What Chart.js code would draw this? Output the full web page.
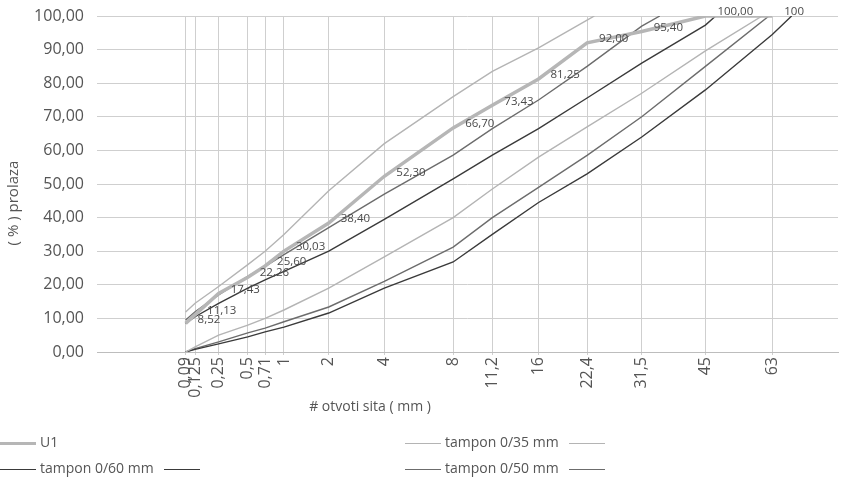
<!DOCTYPE html>
<html>
<head>
<meta charset="utf-8">
<script src="https://cdn.jsdelivr.net/npm/chart.js@4"></script>
<style>
  html, body { margin: 0; padding: 0; background: #ffffff; }
  #wrap { position: relative; width: 841px; height: 483px; }
  #legend { position: absolute; left: 0; top: 428px; width: 841px; height: 55px;
            font-family: 'Open Sans', sans-serif; font-size: 14px; color: #555; }
  .item { position: absolute; height: 20px; line-height: 20px; white-space: nowrap; }
  .item span.line { display: inline-block; width: 36px; vertical-align: middle; margin-right: 4px; }
  .item span.tail { display: inline-block; width: 36px; vertical-align: middle; margin-left: 10px; }
</style>
</head>
<body>
<div id="wrap">
  <canvas id="chart" width="841" height="483"></canvas>
  <div id="legend"></div>
</div>
<script>
// sieve openings (mm)
const sieves = [0.09, 0.125, 0.25, 0.5, 0.71, 1, 2, 4, 8, 11.2, 16, 22.4, 31.5, 45, 63];
const sieveLabels = ['0,09', '0,125', '0,25', '0,5', '0,71', '1', '2', '4', '8', '11,2', '16', '22,4', '31,5', '45', '63'];

// sample U1 (% passing)
const u1Values = [8.52, 11.13, 17.43, 22.26, 25.60, 30.03, 38.40, 52.30, 66.70, 73.43, 81.25, 92.00, 95.40, 100.00, 100];
const u1Labels = ['8,52', '11,13', '17,43', '22,26', '25,60', '30,03', '38,40', '52,30', '66,70', '73,43', '81,25', '92,00', '95,40', '100,00', '100'];

// grading envelopes: values on the sieves, then the size where each reaches 100 %
const upper35 = [11.9, 14.5, 19.5, 26, 30, 35, 48, 62, 76, 83.5, 90.5, 98.8];
const upper35End = 23.5;
const lower35 = [0, 1.5, 5, 8, 10, 12.5, 19, 28.3, 40, 48.5, 58, 67, 77, 89.6];
const lower35End = 60;
const upper50 = [9.5, 12, 17, 22.5, 25.5, 29, 37, 47, 58.6, 66.5, 75, 85, 97];
const upper50End = 35;
const lower50 = [0, 1, 3, 5.7, 7.1, 9, 13.4, 21, 31.2, 40, 49, 58.5, 70, 85];
const lower50End = 62;
const upper60 = [8.5, 10.5, 14.5, 19, 21.5, 24, 30, 39.5, 51.5, 58.6, 66.5, 75.6, 86, 97.3];
const upper60End = 47.5;
const lower60 = [0, 0.8, 2.4, 4.5, 6, 7.4, 11.6, 19, 26.8, 35, 44.5, 53, 64, 78, 94.5];
const lower60End = 69;

const EXP = 0.31; // axis is spaced by d^0.31

class PowerScale extends Chart.LinearScale {
  getPixelForValue(value) {
    const a = Math.pow(this.min, EXP), b = Math.pow(this.max, EXP);
    return this.getPixelForDecimal((Math.pow(Math.max(value, 0), EXP) - a) / (b - a));
  }
  getValueForPixel(pixel) {
    const a = Math.pow(this.min, EXP), b = Math.pow(this.max, EXP);
    return Math.pow(a + this.getDecimalForPixel(pixel) * (b - a), 1 / EXP);
  }
}
PowerScale.id = 'power';
PowerScale.defaults = Chart.LinearScale.defaults;
Chart.register(PowerScale);

function toPoints(values, end) {
  const pts = values.map((v, i) => ({ x: sieves[i], y: v }));
  if (end !== undefined) pts.push({ x: end, y: 100 });
  return pts;
}

const light = '#b4b4b4';
const mid = '#6c6c6c';
const dark = '#3a3a3a';

const datasets = [
  { label: 'U1', data: toPoints(u1Values), borderColor: '#b6b6b6', borderWidth: 3.5 },
  { label: 'tampon 0/35 mm', data: toPoints(upper35, upper35End), borderColor: light, borderWidth: 1.4 },
  { label: '', data: toPoints(lower35, lower35End), borderColor: light, borderWidth: 1.4 },
  { label: 'tampon 0/60 mm', data: toPoints(upper60, upper60End), borderColor: dark, borderWidth: 1.4 },
  { label: '', data: toPoints(lower60, lower60End), borderColor: dark, borderWidth: 1.4 },
  { label: 'tampon 0/50 mm', data: toPoints(upper50, upper50End), borderColor: mid, borderWidth: 1.4 },
  { label: '', data: toPoints(lower50, lower50End), borderColor: mid, borderWidth: 1.4 }
];
datasets.forEach(d => { d.pointRadius = 0; d.tension = 0; d.fill = false; });
datasets[0].order = -1;

// values written beside the U1 points
const u1LabelPlugin = {
  id: 'u1Labels',
  afterDatasetsDraw(chart) {
    const ctx = chart.ctx;
    const meta = chart.getDatasetMeta(0);
    ctx.save();
    ctx.font = '11.5px "Open Sans", sans-serif';
    ctx.fillStyle = '#4a4a4a';
    ctx.textBaseline = 'middle';
    meta.data.forEach((pt, i) => {
      ctx.fillText(u1Labels[i], pt.x + 12, pt.y - 4);
    });
    ctx.restore();
  }
};

// axis titles sit off-centre in the original, so they are placed by hand
const axisTitlePlugin = {
  id: 'axisTitles',
  afterDraw(chart) {
    const ctx = chart.ctx;
    ctx.save();
    ctx.fillStyle = '#555';
    ctx.textAlign = 'center';
    ctx.textBaseline = 'middle';
    ctx.font = '14px "Open Sans", sans-serif';
    ctx.fillText('# otvoti sita ( mm )', 370, 407);
    ctx.font = '15px "Open Sans", sans-serif';
    ctx.translate(14, 203);
    ctx.rotate(-Math.PI / 2);
    ctx.fillText('( % ) prolaza', 0, 0);
    ctx.restore();
  }
};

const fmt = v => v.toFixed(2).replace('.', ',');

new Chart(document.getElementById('chart'), {
  type: 'line',
  data: { datasets: datasets },
  options: {
    responsive: false,
    animation: false,
    layout: { padding: { top: 16, right: 3, bottom: 83, left: 0 } },
    plugins: { legend: { display: false }, tooltip: { enabled: false } },
    scales: {
      x: {
        type: 'power',
        min: 0,
        max: 85,
        afterBuildTicks: s => { s.ticks = sieves.map(v => ({ value: v })); },
        afterFit: s => { s.height = 48; s.paddingLeft = 0; s.paddingRight = 0; },
        grid: { color: '#cfcfcf', lineWidth: 1, tickLength: 3 },
        border: { color: '#bdbdbd' },
        ticks: {
          autoSkip: false,
          minRotation: 90,
          maxRotation: 90,
          padding: 2,
          color: '#555',
          font: { family: 'Open Sans', size: 16 },
          callback: (v, i) => sieveLabels[i]
        }
      },
      y: {
        min: 0,
        max: 100,
        afterFit: s => { s.width = 97; s.paddingTop = 0; s.paddingBottom = 0; },
        grid: { color: '#cfcfcf', lineWidth: 1, tickLength: 0 },
        border: { display: false },
        ticks: {
          stepSize: 10,
          padding: 13,
          color: '#555',
          font: { family: 'Open Sans', size: 16 },
          callback: v => fmt(v)
        }
      }
    }
  },
  plugins: [u1LabelPlugin, axisTitlePlugin]
});

// legend: named series with the line sample in front, its unnamed twin trails after the text
const legendSpots = [
  { ds: 0, twin: null, left: 0, top: 4 },
  { ds: 1, twin: 2, left: 405, top: 4 },
  { ds: 3, twin: 4, left: 0, top: 30 },
  { ds: 5, twin: 6, left: 405, top: 30 }
];
const legendEl = document.getElementById('legend');
legendSpots.forEach(s => {
  const d = datasets[s.ds];
  const item = document.createElement('div');
  item.className = 'item';
  item.style.left = s.left + 'px';
  item.style.top = s.top + 'px';
  let html = '<span class="line" style="border-top:' + d.borderWidth + 'px solid ' + d.borderColor + '"></span>' + d.label;
  if (s.twin !== null) {
    const t = datasets[s.twin];
    html += '<span class="tail" style="border-top:' + t.borderWidth + 'px solid ' + t.borderColor + '"></span>';
  }
  item.innerHTML = html;
  legendEl.appendChild(item);
});
</script>
</body>
</html>
